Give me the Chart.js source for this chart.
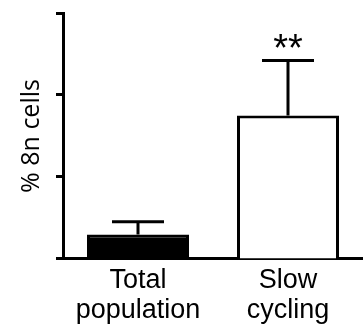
<!DOCTYPE html>
<html>
<head>
<meta charset="utf-8">
<script src="https://cdn.jsdelivr.net/npm/chart.js@4/dist/chart.umd.min.js"></script>
<style>
  html, body { margin: 0; padding: 0; background: #fff; }
  #wrap { width: 363px; height: 332px; }
</style>
</head>
<body>
<div id="wrap"><canvas id="chart"></canvas></div>
<script>
// Data
const categories = [['Total', 'population'], ['Slow', 'cycling']];
const values = [0.3, 1.75];
const errors = [0.155, 0.67];
const significance = ['', '**'];
const barColors = ['#000000', '#ffffff'];

// Draw SEM error bars (upper half only) and the significance stars
const errorBarPlugin = {
    id: 'errorBars',
    afterDatasetsDraw(chart) {
        const ctx = chart.ctx;
        const yScale = chart.scales.y;
        const meta = chart.getDatasetMeta(0);
        ctx.save();
        ctx.strokeStyle = '#000';
        ctx.lineWidth = 3;
        meta.data.forEach((bar, i) => {
            const x = bar.x;
            const yBar = yScale.getPixelForValue(values[i]);
            const yTop = yScale.getPixelForValue(values[i] + errors[i]);
            ctx.beginPath();
            ctx.moveTo(x, yBar);
            ctx.lineTo(x, yTop);
            ctx.moveTo(x - 26, yTop);
            ctx.lineTo(x + 26, yTop);
            ctx.stroke();

            if (significance[i]) {
                ctx.fillStyle = '#000';
                ctx.font = '38px "Liberation Sans", Arial, sans-serif';
                ctx.textAlign = 'center';
                ctx.textBaseline = 'middle';
                ctx.fillText(significance[i], x, yTop - 10);
            }
        });
        ctx.restore();
    }
};

const ctx = document.getElementById('chart').getContext('2d');
const chart = new Chart(ctx, {
    type: 'bar',
    data: {
        labels: categories,
        datasets: [{
            data: values,
            backgroundColor: barColors,
            borderColor: '#000',
            borderWidth: 3,
            borderSkipped: 'bottom',
            categoryPercentage: 1,
            barPercentage: 0.68
        }]
    },
    options: {
        responsive: true,
        maintainAspectRatio: false,
        animation: false,
        layout: { padding: { top: 13, right: 0, left: 0, bottom: 0 } },
        plugins: {
            legend: { display: false },
            tooltip: { enabled: false }
        },
        scales: {
            x: {
                grid: { display: false, drawTicks: false },
                border: { display: true, color: '#000', width: 3 },
                ticks: {
                    color: '#000',
                    padding: 6,
                    maxRotation: 0,
                    font: { family: '"Liberation Sans", Arial, sans-serif', size: 27, lineHeight: 1.13 }
                }
            },
            y: {
                min: 0,
                max: 3,
                ticks: { stepSize: 1, display: false },
                grid: {
                    drawOnChartArea: false,
                    drawTicks: true,
                    tickLength: 7,
                    tickWidth: 3,
                    tickColor: '#000'
                },
                border: { display: true, color: '#000', width: 3 },
                title: {
                    display: true,
                    text: '% 8n cells',
                    color: '#000',
                    padding: { top: 17, bottom: 9 },
                    font: { family: '"Open Sans", sans-serif', size: 25, lineHeight: 1.2 }
                }
            }
        }
    },
    plugins: [errorBarPlugin]
});
</script>
</body>
</html>
